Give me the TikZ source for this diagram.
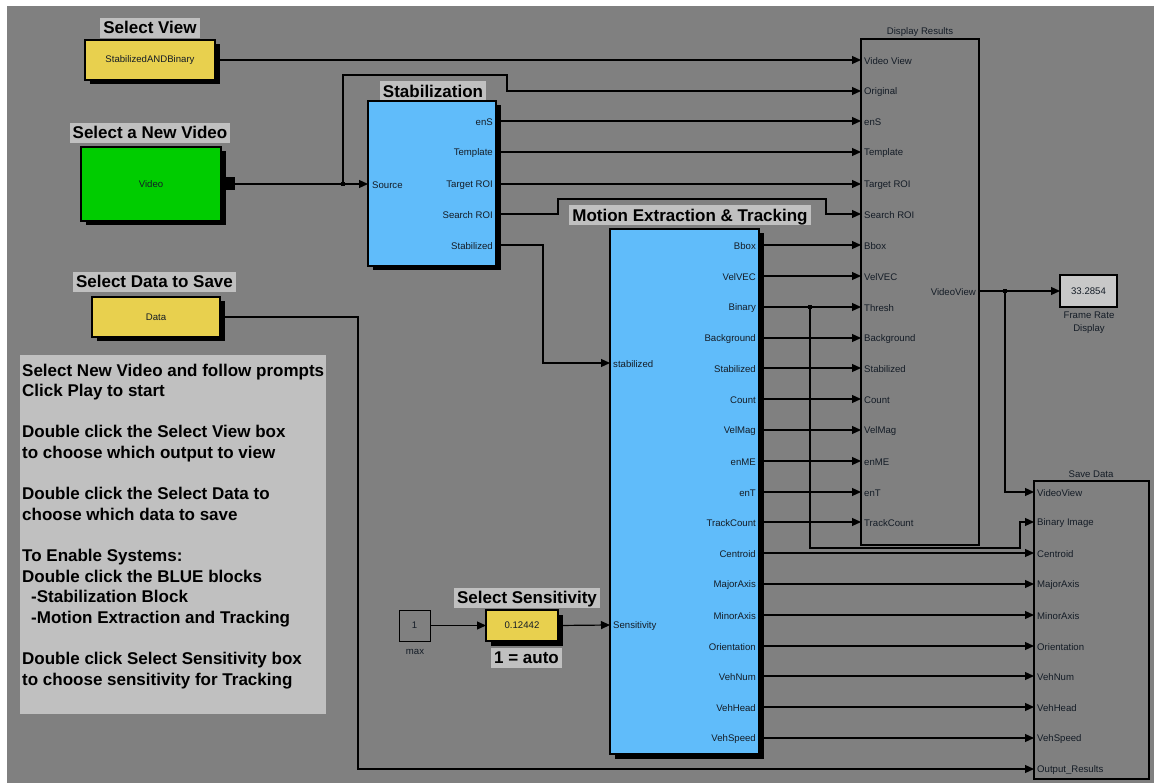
\documentclass[tikz,border=0pt]{standalone}
\usepackage{fontspec}
\setmainfont{Liberation Sans}
\usetikzlibrary{arrows.meta,shadows}
\definecolor{bgray}{HTML}{808080}
\definecolor{ttl}{HTML}{C0C0C0}
\definecolor{frm}{HTML}{C8C8C8}
\definecolor{ylw}{HTML}{E8D04E}
\definecolor{grn}{HTML}{00CC00}
\definecolor{blu}{HTML}{60BCFA}
\definecolor{lbl}{HTML}{141C26}
\begin{document}
\begin{tikzpicture}[x=1pt,y=-1pt,
  wire/.style={line width=1.2pt, draw=black},
  arr/.style={wire, -{Triangle[length=9pt,width=8pt]}},
  blk/.style={draw=black, line width=1.2pt, inner sep=0pt, outer sep=0pt, anchor=north west},
  shad/.style={drop shadow={shadow xshift=4.5pt, shadow yshift=-4.5pt, fill=black, opacity=1}},
  ttlbox/.style={fill=ttl, font=\fontsize{17}{20}\selectfont\bfseries, inner xsep=3pt, inner ysep=1.25pt, text height=14.5pt, text depth=3pt},
  port/.style={font=\fontsize{9.6}{11}\selectfont, text=lbl, inner sep=0pt},
  plbl/.style={port, yshift=-1pt},
  jn/.style={fill=black, minimum size=4pt, inner sep=0pt}]
\useasboundingbox (0,0) rectangle (1154,783);
\fill[white] (0,0) rectangle (1154,783);
\fill[bgray] (7,6) rectangle (1154,783);

% ---------- source blocks ----------
\node[ttlbox] (tsv) at (150,28) {Select View};
\node[blk, fill=ylw, shad, minimum width=130pt, minimum height=40pt, port] (sv) at (85,40) {StabilizedANDBinary};

\node[ttlbox] (tvid) at (150,133) {Select a New Video};
\node[blk, fill=grn, shad, minimum width=140pt, minimum height=74pt, port] (vid) at (81,147) {Video};
\node[fill=black, anchor=north west, minimum width=9pt, minimum height=13pt, inner sep=0pt, outer sep=0pt] (vp) at (226,177.5) {};

\node[ttlbox] (tsd) at (154.5,282) {Select Data to Save};
\node[blk, fill=ylw, shad, minimum width=128pt, minimum height=40pt, port] (sd) at (92,297) {Data};

% ---------- instructions ----------
\node[fill=ttl, anchor=north west, minimum width=306pt, minimum height=359pt, inner sep=0pt] (panel) at (20,355) {};
\node[anchor=north west, inner sep=0pt, align=left, font=\fontsize{17}{20.6}\selectfont\bfseries] (instr) at (22,363.5)
{Select New Video and follow prompts\\
Click Play to start\\
\strut\\
Double click the Select View box\\
to choose which output to view\\
\strut\\
Double click the Select Data to\\
choose which data to save\\
\strut\\
To Enable Systems:\\
Double click the BLUE blocks\\
\hspace*{9pt}-Stabilization Block\\
\hspace*{9pt}-Motion Extraction and Tracking\\
\strut\\
Double click Select Sensitivity box\\
to choose sensitivity for Tracking};

% ---------- Stabilization ----------
\node[ttlbox] (tst) at (433,91.5) {Stabilization};
\node[blk, fill=blu, shad, minimum width=128pt, minimum height=165pt] (st) at (368,101) {};
\coordinate (stin) at (368,184);
\node[plbl, anchor=west] (stinl) at (372,184) {Source};
\foreach \y/\t [count=\i] in {121/enS,152/Template,184/Target ROI,214/Search ROI,245/Stabilized}{
  \coordinate (so\i) at (496,\y);
  \node[plbl, anchor=east] (sol\i) at (493,\y) {\t};
}

% ---------- Motion Extraction & Tracking ----------
\node[ttlbox] (tmo) at (690,215.5) {Motion Extraction \& Tracking};
\node[blk, fill=blu, shad, minimum width=149pt, minimum height=525pt] (mo) at (610,229) {};
\coordinate (mi1) at (610,363);
\coordinate (mi2) at (610,625);
\node[plbl, anchor=west] (mil1) at (613,363) {stabilized};
\node[plbl, anchor=west] (mil2) at (613,625) {Sensitivity};
\foreach \y/\t [count=\i] in {245/Bbox,276/VelVEC,307/Binary,338/Background,368/Stabilized,399/Count,430/VelMag,461/enME,492/enT,522/TrackCount,553/Centroid,584/MajorAxis,615/MinorAxis,646/Orientation,676/VehNum,707/VehHead,738/VehSpeed}{
  \coordinate (mo\i) at (759,\y);
  \node[plbl, anchor=east] (mol\i) at (756,\y) {\t};
}

% ---------- Display Results ----------
\node[plbl] (tdr) at (920,31) {Display Results};
\node[blk, minimum width=118pt, minimum height=506pt] (dr) at (861,39) {};
\foreach \y/\t [count=\i] in {60/Video View,91/Original,121/enS,152/Template,184/Target ROI,214/Search ROI,245/Bbox,276/VelVEC,307/Thresh,338/Background,368/Stabilized,399/Count,430/VelMag,461/enME,492/enT,522/TrackCount}{
  \coordinate (di\i) at (861,\y);
  \node[plbl, anchor=west] (dil\i) at (864,\y) {\t};
}
\coordinate (dout) at (979,291);
\node[plbl, anchor=east] (doutl) at (976,291) {VideoView};

% ---------- Frame Rate Display ----------
\node[blk, line width=1.6pt, fill=frm, minimum width=57pt, minimum height=32pt, port] (fr) at (1060,275) {33.2854};
\node[port, align=center, font=\fontsize{9.6}{13}\selectfont] (frl) at (1089,323) {Frame Rate\\Display};

% ---------- Save Data ----------
\node[plbl] (tsv2) at (1091,473) {Save Data};
\node[blk, minimum width=115pt, minimum height=298pt] (sdv) at (1034,481) {};
\foreach \y/\t [count=\i] in {492/VideoView,522/Binary Image,553/Centroid,584/MajorAxis,615/MinorAxis,646/Orientation,676/VehNum,707/VehHead,738/VehSpeed,769/Output\_Results}{
  \coordinate (si\i) at (1034,\y);
  \node[plbl, anchor=west] (sil\i) at (1037,\y) {\t};
}

% ---------- Sensitivity ----------
\node[blk, line width=1pt, fill=bgray, minimum width=31pt, minimum height=31pt, port] (mx) at (399,610) {1};
\node[plbl] (mxl) at (415,651) {max};
\node[ttlbox] (tss) at (527,598) {Select Sensitivity};
\node[blk, fill=ylw, shad, minimum width=72pt, minimum height=31pt, port] (ss) at (486,610) {0.12442};
\node[ttlbox] (tau) at (526.5,658) {1 = auto};

% ---------- junctions ----------
\coordinate (j1) at (343,184);
\coordinate (j2) at (810,307);
\coordinate (j3) at (1005,291);

% ---------- wires ----------
\draw[arr] (sv.east) -- (di1);
\draw[arr] (vp.east) -- (stin);
\draw[arr] (j1) -- ++(0,-109) -- ++(164,0) -- ++(0,16) -- (di2);
\foreach \i/\j in {1/3,2/4,3/5}{ \draw[arr] (so\i) -- (di\j); }
\draw[arr] (so4) -- ++(62,0) -- ++(0,-15) -- ++(268,0) -- ++(0,15) -- (di6);
\draw[arr] (so5) -- ++(47,0) |- (mi1);
\foreach \i in {1,...,10}{ \pgfmathtruncatemacro\j{\i+6} \draw[arr] (mo\i) -- (di\j); }
\foreach \i in {11,...,17}{ \pgfmathtruncatemacro\j{\i-8} \draw[arr] (mo\i) -- (si\j); }
\draw[arr] (j2) -- ++(0,241) -- ++(210,0) -- ++(0,-26) -- (si2);
\draw[arr] (dout) -- (fr.west);
\draw[arr] (j3) |- (si1);
\draw[arr] (sd.east) -- ++(138,0) |- (si10);
\draw[arr] (mx.east) -- (ss.west);
\draw[arr] (ss.east) -- (mi2);
\node[jn] at (j1) {};
\node[jn] at (j2) {};
\node[jn] at (j3) {};
\end{tikzpicture}
\end{document}
